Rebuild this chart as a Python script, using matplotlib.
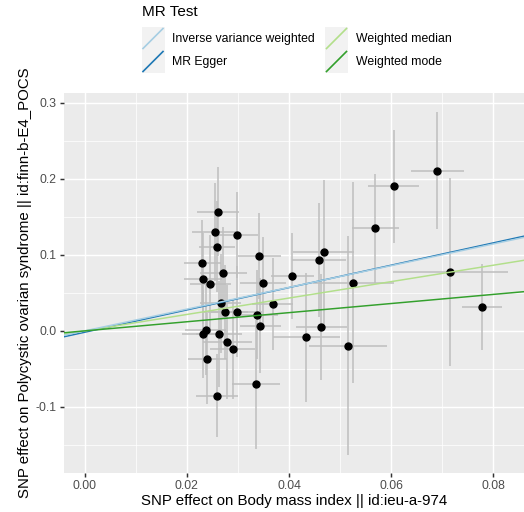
import matplotlib.pyplot as plt
from matplotlib.lines import Line2D
from matplotlib.patches import Rectangle
import numpy as np

plt.rcParams['font.family'] = ['Liberation Sans', 'DejaVu Sans']

# SNP effects on exposure (x) and outcome (y) with standard errors
beta_x = [0.0690, 0.0605, 0.0569, 0.0468, 0.0458, 0.0406, 0.0526, 0.0463, 0.0434,
          0.0515, 0.0716, 0.0777, 0.0261, 0.0255, 0.0299, 0.0259, 0.0342, 0.0230,
          0.0271, 0.0232, 0.0246, 0.0350, 0.0266, 0.0368, 0.0274, 0.0298, 0.0337,
          0.0344, 0.0237, 0.0232, 0.0263, 0.0279, 0.0290, 0.0240, 0.0335, 0.0259]
beta_y = [0.211, 0.190, 0.135, 0.104, 0.093, 0.072, 0.0636, 0.0053, -0.0083,
          -0.0193, 0.0772, 0.0312, 0.157, 0.130, 0.126, 0.111, 0.0987, 0.089,
          0.0768, 0.0684, 0.0618, 0.0632, 0.0364, 0.0355, 0.0246, 0.0254, 0.0215,
          0.0070, 0.0013, -0.0044, -0.0039, -0.0149, -0.0241, -0.0368, -0.0702, -0.0851]
se_x = [0.0052, 0.0050, 0.0046, 0.0060, 0.0053, 0.0042, 0.0080, 0.0050, 0.0065,
        0.0076, 0.0113, 0.0039, 0.0042, 0.0045, 0.0040, 0.0036, 0.0042, 0.0036,
        0.0046, 0.0037, 0.0040, 0.0045, 0.0040, 0.0040, 0.0045, 0.0050, 0.0042,
        0.0040, 0.0040, 0.0042, 0.0045, 0.0048, 0.0044, 0.0038, 0.0047, 0.0041]
se_y = [0.077, 0.074, 0.072, 0.095, 0.075, 0.057, 0.132, 0.070, 0.085,
        0.144, 0.124, 0.057, 0.058, 0.064, 0.057, 0.060, 0.057, 0.057,
        0.060, 0.060, 0.065, 0.060, 0.065, 0.060, 0.062, 0.060, 0.058,
        0.062, 0.060, 0.058, 0.070, 0.075, 0.065, 0.060, 0.085, 0.055]

# MR method fits (legend order)
methods = ['Inverse variance weighted', 'MR Egger', 'Weighted median', 'Weighted mode']
slopes = [1.43, 1.47, 1.08, 0.60]
intercepts = [0.0, -0.0018, 0.0, 0.0]
colors = ['#A6CEE3', '#1F78B4', '#B2DF8A', '#33A02C']
draw_order = [1, 2, 0, 3]

W, H = 524, 512
fig = plt.figure(figsize=(W / 100, H / 100), dpi=100)
ax = fig.add_axes([63.5 / W, 1 - 473 / H, (W - 63.5) / W, (473 - 93) / H])

xlim = (-0.00415, 0.086)
ylim = (-0.187, 0.313)
ax.set_xlim(xlim)
ax.set_ylim(ylim)
ax.set_facecolor('#EBEBEB')

# grid
ax.set_xticks([0.0, 0.02, 0.04, 0.06, 0.08])
ax.set_yticks([-0.1, 0.0, 0.1, 0.2, 0.3])
ax.set_xticks([0.01, 0.03, 0.05, 0.07], minor=True)
ax.set_yticks([-0.15, -0.05, 0.05, 0.15, 0.25], minor=True)
ax.grid(True, which='major', color='white', lw=1.07, zorder=0)
ax.grid(True, which='minor', color='white', lw=0.53, zorder=0)
ax.set_axisbelow(True)
for s in ax.spines.values():
    s.set_visible(False)
ax.set_xticklabels(['0.00', '0.02', '0.04', '0.06', '0.08'])
ax.set_yticklabels(['-0.1', '0.0', '0.1', '0.2', '0.3'])
ax.tick_params(which='major', length=2.75, width=1.07, color='#333333',
               labelcolor='#4D4D4D', labelsize=8.8, pad=2)
ax.tick_params(which='minor', length=0)

bx = np.array(beta_x)
by = np.array(beta_y)
sx = np.array(se_x)
sy = np.array(se_y)

ax.vlines(bx, by - sy, by + sy, color='#BEBEBE', lw=1.1, zorder=2)
ax.hlines(by, bx - sx, bx + sx, color='#BEBEBE', lw=1.1, zorder=2)
ax.plot(bx, by, 'o', color='black', ms=5, zorder=3)

xx = np.array(xlim)
for i in draw_order:
    ax.plot(xx, intercepts[i] + slopes[i] * xx, color=colors[i], lw=1.07, zorder=4)

ax.set_xlabel('SNP effect on Body mass index || id:ieu-a-974', fontsize=10.8, labelpad=2)
ax.set_ylabel('SNP effect on Polycystic ovarian syndrome || id:finn-b-E4_POCS',
              fontsize=10.8, labelpad=3)

# legend drawn in figure pixel coordinates
fig.text(141.5 / W, 1 - 12 / H, 'MR Test', fontsize=11, va='center', ha='left')
key_x = [141.5, 141.5, 325, 325]
key_y = [27, 50, 27, 50]
text_x = [172, 172, 356, 356]
for m, c, kx, ky, tx in zip(methods, colors, key_x, key_y, text_x):
    fig.patches.append(Rectangle((kx / W, 1 - (ky + 23) / H), 23 / W, 23 / H,
                                 transform=fig.transFigure, color='#F2F2F2', lw=0))
    fig.lines.append(Line2D([(kx + 1.5) / W, (kx + 21.5) / W],
                            [1 - (ky + 21.5) / H, 1 - (ky + 1.5) / H],
                            transform=fig.transFigure, color=c, lw=1.2))
    fig.text(tx / W, 1 - (ky + 12) / H, m, fontsize=8.8, va='center', ha='left')

fig.savefig('out.png', dpi=100)
